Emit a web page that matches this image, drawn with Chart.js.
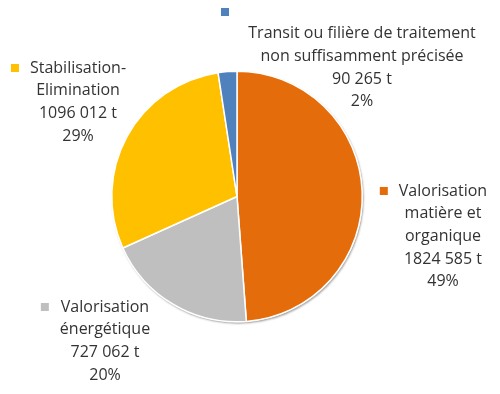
<!DOCTYPE html>
<meta charset="utf-8">
<script src="https://cdn.jsdelivr.net/npm/chart.js@4.4.0/dist/chart.umd.min.js"></script>
<style>
  html, body { margin: 0; padding: 0; background: #fff; }
  #wrap { width: 500px; height: 394px; }
</style>
<div id="wrap"><canvas id="chart" width="500" height="394"></canvas></div>
<script>
// données
var categories = [
  ['Valorisation', 'matière et', 'organique'],
  ['Valorisation', 'énergétique'],
  ['Stabilisation-', 'Elimination'],
  ['Transit ou filière de traitement', 'non suffisamment précisée']
];
var tonnages = [1824585, 727062, 1096012, 90265];
var pctLabels = ['49%', '20%', '29%', '2%'];
var colors = ['#E46C0A', '#BFBFBF', '#FFC000', '#4F81BD'];

// position des étiquettes (centre du texte, y de la 1re ligne)
var labelPos = [
  { x: 443, y: 191, keyOwnLine: false },
  { x: 105, y: 307, keyOwnLine: false },
  { x: 78, y: 68, keyOwnLine: false },
  { x: 362, y: 12, keyOwnLine: true, keyX: 225 }
];

function fmtTonnes(v) {
  var hi = Math.floor(v / 1000);
  var lo = String(v % 1000).padStart(3, '0');
  return hi + ' ' + lo + ' t';
}

var FONT = '16px "Open Sans"';
var LINE_H = 22.7;
var TEXT_COLOR = '#333333';

// ombre légère sous le camembert
var shadowPlugin = {
  id: 'pieShadow',
  beforeDatasetsDraw: function(chart) {
    var arc = chart.getDatasetMeta(0).data[0];
    if (!arc) return;
    var ctx = chart.ctx;
    ctx.save();
    ctx.shadowColor = 'rgba(0,0,0,0.35)';
    ctx.shadowBlur = 2;
    ctx.shadowOffsetX = 1;
    ctx.shadowOffsetY = 1.5;
    ctx.fillStyle = '#ffffff';
    ctx.beginPath();
    ctx.arc(arc.x, arc.y, arc.outerRadius + 0.5, 0, Math.PI * 2);
    ctx.fill();
    ctx.restore();
  }
};

var labelPlugin = {
  id: 'pieLabels',
  afterDraw: function(chart) {
    var ctx = chart.ctx;
    ctx.save();
    ctx.font = FONT;
    ctx.textAlign = 'center';
    ctx.textBaseline = 'middle';
    categories.forEach(function(cat, i) {
      var p = labelPos[i];
      var lines = cat.concat([fmtTonnes(tonnages[i]), pctLabels[i]]);
      var maxW = 0;
      lines.forEach(function(l) { maxW = Math.max(maxW, ctx.measureText(l).width); });
      var y0 = p.keyOwnLine ? p.y + LINE_H * 0.95 : p.y;
      ctx.fillStyle = TEXT_COLOR;
      lines.forEach(function(l, k) {
        ctx.fillText(l, p.x, y0 + k * LINE_H);
      });
      var kx = p.keyX !== undefined ? p.keyX : p.x - maxW / 2 - 15;
      ctx.fillStyle = colors[i];
      ctx.fillRect(kx - 4, p.y - 4, 8, 8);
    });
    ctx.restore();
  }
};

new Chart(document.getElementById('chart'), {
  type: 'pie',
  data: {
    labels: categories.map(function(c) { return c.join(' '); }),
    datasets: [{
      data: tonnages,
      backgroundColor: colors,
      borderColor: '#ffffff',
      borderWidth: 1.5
    }]
  },
  options: {
    responsive: false,
    animation: false,
    layout: { padding: { left: 111, right: 137, top: 70, bottom: 71 } },
    plugins: {
      legend: { display: false },
      tooltip: { enabled: false }
    }
  },
  plugins: [shadowPlugin, labelPlugin]
});
</script>
